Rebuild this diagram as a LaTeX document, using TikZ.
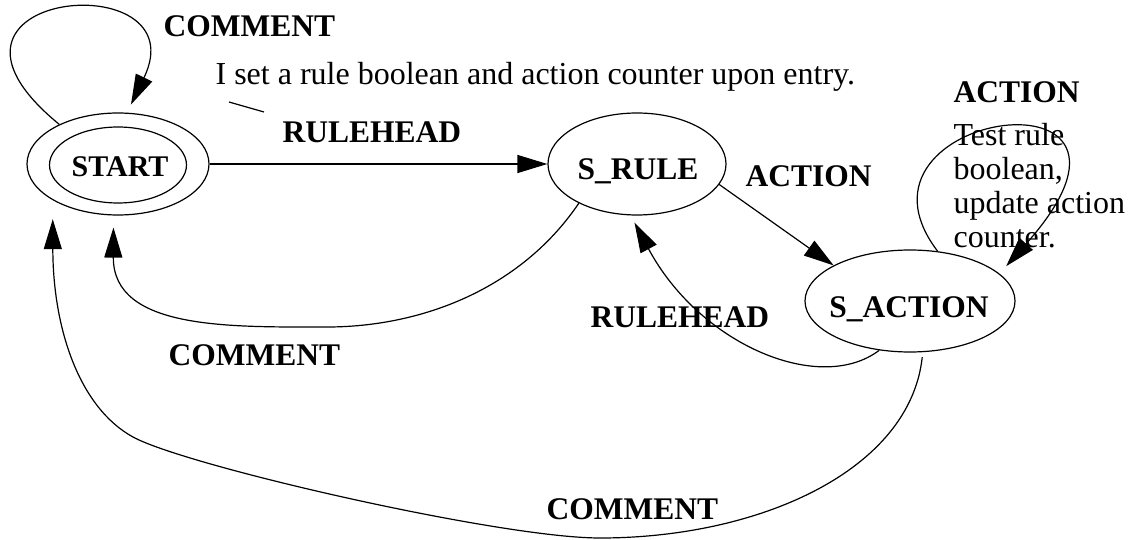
\documentclass[tikz,border=0pt]{standalone}
\usepackage{fontspec}
\setmainfont{Liberation Serif}
\usetikzlibrary{arrows.meta,shapes.geometric}
\begin{document}
\begin{tikzpicture}[x=1pt,y=-1pt,line width=1.2pt,
  st/.style={draw,ellipse,inner sep=0pt},
  stname/.style={font=\fontsize{31.5}{34}\selectfont\bfseries,inner sep=0pt,anchor=base},
  lbl/.style={font=\fontsize{31.5}{34}\selectfont\bfseries,inner sep=0pt,anchor=base west},
  txt/.style={font=\fontsize{32}{34}\selectfont,inner sep=0pt,anchor=base west},
  edge/.style={-{Triangle[length=30pt,width=18pt]}}
]
\useasboundingbox (0,0) rectangle (1132,540);
% states
\node[st,minimum width=182pt,minimum height=102pt] (start) at (118,164) {};
\node[st,minimum width=137pt,minimum height=76pt] (starti) at (118,165) {};
\node[st,minimum width=178pt,minimum height=102pt] (sr) at (637,164) {};
\node[st,minimum width=210pt,minimum height=102pt] (sa) at (910,301) {};
\node[stname,font=\fontsize{30}{32}\selectfont\bfseries] (tstart) at (120,177) {START};
\node[stname] (tsr) at (638,180) {S\_RULE};
\node[stname] (tsa) at (909,317) {S\_ACTION};
% labels
\node[lbl] (l1) at (163,37) {COMMENT};
\node[txt] (c1) at (215,85) {I set a rule boolean and action counter upon entry.};
\coordinate (p1) at (229,102);
\coordinate (p2) at (264,112);
\draw (p1) -- (p2);
\node[lbl] (l2) at (282,143) {RULEHEAD};
\node[lbl] (l3) at (745,187) {ACTION};
\node[lbl] (l4) at (953,103) {ACTION};
\node[txt,anchor=north west,align=left] (c2) at (953,123) {Test rule\\boolean,\\update action\\counter.};
\node[lbl] (l5) at (590,327) {RULEHEAD};
\node[lbl] (l6) at (168,365) {COMMENT};
\node[lbl] (l7) at (546,519) {COMMENT};
% edges
\draw[edge,shorten >=9pt] (start.146) .. controls (-105,-10) and (200,-38) .. (start.80);
\draw[edge] (start.east) -- (sr.west);
\draw[edge] (sr.-14) -- (sa.155);
\draw[edge,shorten >=10pt] (sa.61) .. controls (830,110) and (1190,60) .. (sa.17);
\draw[edge,shorten >=8pt] (sa.-122) .. controls (820,395) and (700,345) .. (sr.-97);
\draw[edge,shorten >=12pt] (sr.214) .. controls (520,290) and (420,327) .. (327,327)
   .. controls (230,327) and (113,330) .. (start.-95);
\draw[edge,shorten <=5pt,shorten >=19pt] (sa.-76) .. controls (910,470) and (760,538) .. (600,538)
   .. controls (500,538) and (186,466) .. (133,437)
   .. controls (80,408) and (53,330) .. (start.209);
\end{tikzpicture}
\end{document}
